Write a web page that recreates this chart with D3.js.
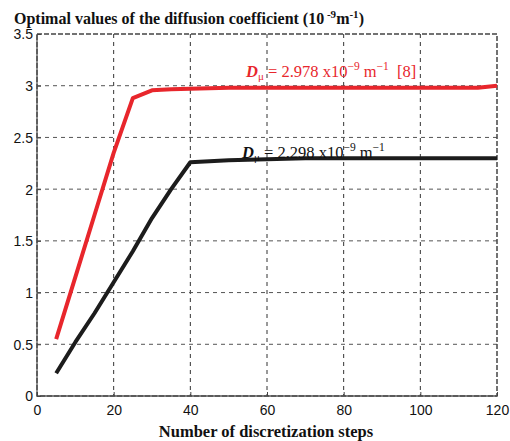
<!DOCTYPE html>
<html>
<head>
<meta charset="utf-8">
<script src="https://cdn.jsdelivr.net/npm/d3@7"></script>
<style>
  body { margin: 0; background: #fff; }
  svg { display: block; }
</style>
</head>
<body>
<svg></svg>
<script>
// data
var steps = [5, 10, 15, 20, 25, 30, 35, 40, 50, 60, 70, 80, 90, 100, 110, 115, 120];
var refValues = [0.55, 1.15, 1.75, 2.35, 2.88, 2.955, 2.965, 2.97, 2.98, 2.98, 2.98, 2.98, 2.98, 2.98, 2.98, 2.98, 3.0];
var optValues = [0.22, 0.52, 0.8, 1.1, 1.4, 1.72, 2.0, 2.26, 2.28, 2.29, 2.298, 2.298, 2.298, 2.298, 2.298, 2.298, 2.298];
var xTicks = [0, 20, 40, 60, 80, 100, 120];
var yTicks = [0, 0.5, 1, 1.5, 2, 2.5, 3, 3.5];
var yTickLabels = ['0', '0.5', '1', '1.5', '2', '2.5', '3', '3.5'];

var svgWidth = 510, svgHeight = 441;
var margin = { top: 34, right: 13, bottom: 45, left: 37 };
var width = svgWidth - margin.left - margin.right;
var height = svgHeight - margin.top - margin.bottom;

var svg = d3.select('svg')
    .attr('width', svgWidth)
    .attr('height', svgHeight);

var g = svg.append('g')
    .attr('transform', 'translate(' + margin.left + ',' + margin.top + ')');

var x = d3.scaleLinear().domain([0, 120]).range([0, width]);
var y = d3.scaleLinear().domain([0, 3.5]).range([height, 0]);

// grid
g.append('g')
    .selectAll('line')
    .data(xTicks.slice(1, -1))
    .enter().append('line')
    .attr('x1', d => x(d)).attr('x2', d => x(d))
    .attr('y1', 0).attr('y2', height)
    .attr('stroke', '#333').attr('stroke-width', 1)
    .attr('stroke-dasharray', '4,4');

g.append('g')
    .selectAll('line')
    .data(yTicks.slice(1, -1))
    .enter().append('line')
    .attr('x1', 0).attr('x2', width)
    .attr('y1', d => y(d)).attr('y2', d => y(d))
    .attr('stroke', '#555').attr('stroke-width', 1)
    .attr('stroke-dasharray', '4,4');

// frame
g.append('rect')
    .attr('width', width).attr('height', height)
    .attr('fill', 'none')
    .attr('stroke', '#444').attr('stroke-width', 1.5)
    .attr('stroke-dasharray', '5,2');
g.append('line').attr('x1', 0).attr('x2', 0).attr('y1', 0).attr('y2', height)
    .attr('stroke', '#555').attr('stroke-width', 1.3);
g.append('line').attr('x1', 0).attr('x2', width).attr('y1', height).attr('y2', height)
    .attr('stroke', '#555').attr('stroke-width', 1.3);

// axes
var xAxis = g.append('g')
    .attr('transform', 'translate(0,' + height + ')')
    .call(d3.axisBottom(x).tickValues(xTicks).tickSize(-4).tickPadding(9));
var yAxis = g.append('g')
    .call(d3.axisLeft(y).tickValues(yTicks).tickFormat((d, i) => yTickLabels[i]).tickSize(-4).tickPadding(4));

[xAxis, yAxis].forEach(function (a) {
    a.select('.domain').remove();
    a.selectAll('line').attr('stroke', '#444');
    a.selectAll('text')
        .attr('fill', '#111')
        .style('font-family', '"Liberation Sans", Arial, sans-serif')
        .style('font-size', '14px');
});
yAxis.selectAll('text').attr('dy', '0.35em');

// lines
var line = d3.line()
    .x(d => x(d[0]))
    .y(d => y(d[1]));

g.append('path')
    .datum(d3.zip(steps, refValues))
    .attr('fill', 'none')
    .attr('stroke', '#e8262c')
    .attr('stroke-width', 4)
    .attr('stroke-linejoin', 'round')
    .attr('d', line);

g.append('path')
    .datum(d3.zip(steps, optValues))
    .attr('fill', 'none')
    .attr('stroke', '#1c1c1c')
    .attr('stroke-width', 4)
    .attr('stroke-linejoin', 'round')
    .attr('d', line);

// annotations
function label(tx, ty, color, value, extra) {
    var t = svg.append('text')
        .attr('x', tx).attr('y', ty)
        .attr('fill', color)
        .style('font-family', '"Liberation Serif", "Times New Roman", serif')
        .style('font-size', '16.5px');
    t.append('tspan').text('D').style('font-weight', 'bold').style('font-style', 'italic');
    t.append('tspan').text('\u03bc').attr('dy', 3).style('font-size', '11px');
    t.append('tspan').text(' = ' + value + ' x10').attr('dy', -3);
    t.append('tspan').text('\u2212' + '9').attr('dy', -7).style('font-size', '11.5px');
    t.append('tspan').text(' m').attr('dy', 7);
    t.append('tspan').text('\u2212' + '1').attr('dy', -7).style('font-size', '11.5px');
    if (extra) t.append('tspan').text(extra).attr('dy', 7);
}
label(246, 77, '#e8262c', '2.978', '\u00a0\u00a0[8]');
label(242, 158, '#111', '2.298');

// title
var title = svg.append('text')
    .attr('x', 14).attr('y', 24)
    .attr('fill', '#111')
    .style('font-family', '"Liberation Serif", "Times New Roman", serif')
    .style('font-size', '16px')
    .style('font-weight', 'bold');
title.append('tspan').text('Optimal values of the diffusion coefficient (10');
title.append('tspan').text(' -9').attr('dy', -6).style('font-size', '11px');
title.append('tspan').text('m').attr('dy', 6);
title.append('tspan').text('-1').attr('dy', -6).style('font-size', '11px');
title.append('tspan').text(')').attr('dy', 6);

// x label
svg.append('text')
    .attr('x', margin.left + width / 2 - 1).attr('y', 437)
    .attr('text-anchor', 'middle')
    .attr('fill', '#111')
    .style('font-family', '"Liberation Serif", "Times New Roman", serif')
    .style('font-size', '16.5px')
    .style('font-weight', 'bold')
    .text('Number of discretization steps');
</script>
</body>
</html>
